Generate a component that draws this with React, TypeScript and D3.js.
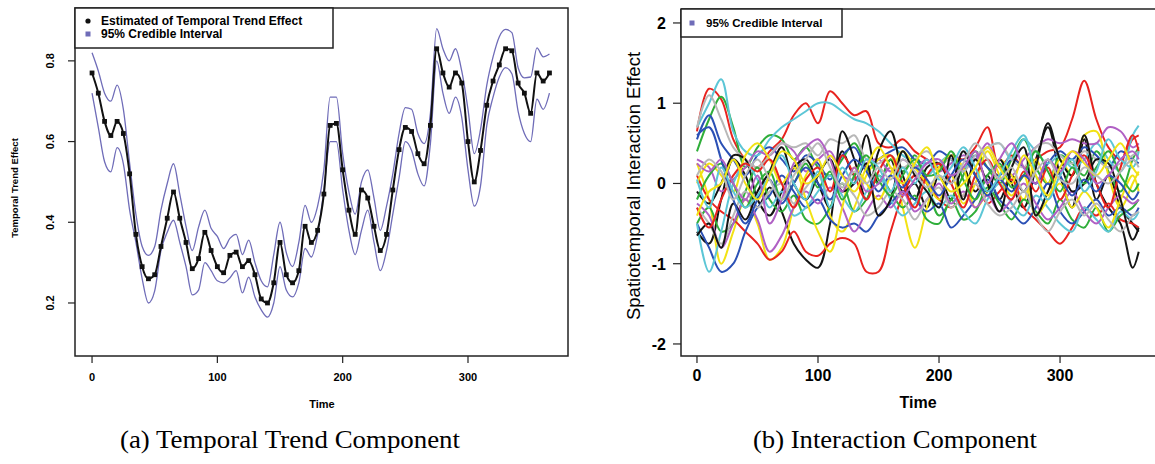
import React from "react";
import * as d3 from "d3";

// ---- (a) temporal trend ----
const trendTime = d3.range(0, 366, 5);
const trendMean = [
  0.77, 0.72, 0.65, 0.615, 0.65, 0.62, 0.52, 0.37, 0.29, 0.26,
  0.27, 0.34, 0.41, 0.475, 0.41, 0.35, 0.285, 0.31, 0.375, 0.33,
  0.29, 0.275, 0.318, 0.326, 0.29, 0.305, 0.27, 0.21, 0.2, 0.25,
  0.35, 0.27, 0.25, 0.28, 0.39, 0.35, 0.38, 0.47, 0.64, 0.645,
  0.53, 0.43, 0.37, 0.48, 0.46, 0.39, 0.33, 0.37, 0.48, 0.58,
  0.635, 0.625, 0.57, 0.545, 0.64, 0.83, 0.77, 0.735, 0.77, 0.745,
  0.6, 0.5, 0.578, 0.69, 0.75, 0.79, 0.83, 0.825, 0.745, 0.72,
  0.67, 0.77, 0.75, 0.77,
];
const trendUpper = [
  0.82, 0.775, 0.72, 0.7, 0.74, 0.68, 0.546, 0.42, 0.34, 0.318,
  0.34, 0.43, 0.496, 0.545, 0.47, 0.39, 0.33, 0.388, 0.43, 0.385,
  0.365, 0.335, 0.36, 0.37, 0.32, 0.356, 0.3, 0.255, 0.24, 0.32,
  0.4, 0.325, 0.29, 0.35, 0.442, 0.4, 0.44, 0.53, 0.71, 0.71,
  0.57, 0.475, 0.42, 0.5, 0.53, 0.46, 0.38, 0.44, 0.52, 0.62,
  0.684, 0.68, 0.62, 0.595, 0.67, 0.88, 0.83, 0.8, 0.83, 0.775,
  0.68, 0.57, 0.63, 0.74, 0.81, 0.86, 0.878, 0.87, 0.783, 0.758,
  0.76, 0.832, 0.81, 0.817,
];
const trendLower = [
  0.72, 0.635, 0.55, 0.525, 0.585, 0.545, 0.43, 0.35, 0.26, 0.2,
  0.23, 0.33, 0.375, 0.405, 0.35, 0.29, 0.22, 0.232, 0.3, 0.28,
  0.255, 0.25, 0.262, 0.28, 0.225, 0.264, 0.215, 0.183, 0.165, 0.2,
  0.29, 0.232, 0.215, 0.25, 0.335, 0.314, 0.37, 0.48, 0.6, 0.6,
  0.48, 0.38, 0.32, 0.38, 0.43, 0.35, 0.28, 0.33, 0.42, 0.51,
  0.6, 0.578, 0.52, 0.49, 0.595, 0.8, 0.72, 0.67, 0.71, 0.66,
  0.53, 0.44, 0.49, 0.64, 0.71, 0.76, 0.783, 0.768, 0.675, 0.62,
  0.6, 0.705, 0.68, 0.72,
];
const trendXTicks = [0, 100, 200, 300];
const trendYTicks = [0.2, 0.4, 0.6, 0.8];

// ---- (b) interaction ----
const interTime = [
  0, 10, 20, 30, 40, 50, 60, 70, 80, 90,
  100, 110, 120, 130, 140, 150, 160, 170, 180, 190,
  200, 210, 220, 230, 240, 250, 260, 270, 280, 290,
  300, 310, 320, 330, 340, 350, 360, 365,
];
const black1 = [
  -0.6, -0.75, -0.2, 0.3, 0.1, -0.3, -0.05, -0.35, -0.75, -0.95,
  -1.05, -0.5, 0.4, 0.1, 0.6, 0.0, 0.3, -0.1, 0.0, -0.3,
  0.1, -0.2, 0.2, -0.1, 0.1, -0.2, 0.1, -0.1, 0.3, 0.7,
  0.1, -0.3, 0.55, -0.2, 0.1, -0.3, -0.5, -0.6,
];
const red1 = [
  0.65, 1.18, 1.05, 0.55, 0.3, 0.2, 0.4, 0.55, 0.85, 1.0,
  0.75, 1.15, 1.0, 0.85, 0.9, 0.5, 0.45, 0.55, 0.4, 0.3,
  0.2, 0.35, 0.3, 0.45, 0.7, 0.2, 0.35, 0.2, 0.3, 0.4,
  0.45, 0.8, 1.28, 0.8, 0.45, 0.3, 0.55, 0.6,
];
const green1 = [
  0.4, 0.8, 1.08, 0.7, 0.2, 0.45, 0.6, 0.55, 0.3, 0.45,
  0.2, 0.1, 0.3, 0.5, 0.2, 0.0, 0.3, 0.15, 0.35, 0.0,
  -0.4, -0.2, 0.1, 0.4, 0.2, 0.0, 0.3, 0.55, 0.2, 0.0,
  0.35, 0.25, 0.1, 0.4, 0.15, -0.1, 0.3, 0.45,
];
const blue1 = [
  0.55, 0.85, 0.5, 0.3, 0.1, 0.35, 0.45, 0.3, 0.15, 0.35,
  0.25, 0.05, 0.35, 0.45, 0.2, 0.3, 0.4, 0.45, 0.3, 0.25,
  0.4, 0.3, 0.15, 0.35, 0.2, 0.1, 0.3, 0.2, 0.0, 0.25,
  0.4, 0.3, 0.45, 0.35, 0.2, 0.4, 0.3, 0.25,
];
const cyan1 = [
  0.7, 1.0, 1.3, 0.65, 0.4, 0.35, 0.55, 0.7, 0.8, 0.9,
  1.0, 1.0, 0.9, 0.8, 0.75, 0.65, 0.5, 0.35, 0.25, 0.1,
  0.25, 0.35, 0.2, 0.3, 0.45, 0.5, 0.3, 0.55, 0.4, 0.25,
  0.35, 0.2, 0.3, 0.5, 0.3, 0.15, 0.6, 0.72,
];
const purple1 = [
  0.3, 0.2, -0.1, 0.05, 0.2, 0.4, 0.35, 0.5, 0.4, 0.15,
  0.3, 0.4, 0.1, 0.05, 0.25, 0.3, 0.15, 0.3, 0.2, 0.3,
  0.15, 0.25, 0.35, 0.3, 0.5, 0.2, 0.1, 0.3, 0.45, 0.55,
  0.5, 0.55, 0.5, 0.5, 0.7, 0.65, 0.45, 0.5,
];
const yellow1 = [
  0.25, -0.2, -1.0, -0.6, -0.2, -0.5, -0.95, -0.8, -0.3, 0.1,
  0.3, -0.4, -0.6, -0.3, 0.1, 0.3, 0.35, -0.3, -0.8, -0.3,
  0.2, 0.35, 0.2, -0.3, -0.1, 0.3, 0.1, -0.2, 0.3, 0.0,
  0.3, 0.1, 0.6, 0.65, 0.1, -0.3, 0.0, 0.15,
];
const gray1 = [
  0.7, 1.1, 0.8, 0.45, 0.3, 0.2, 0.35, 0.5, 0.45, 0.5,
  0.35, 0.55, 0.5, 0.6, 0.3, 0.25, 0.35, 0.2, 0.3, 0.4,
  0.25, 0.3, 0.15, 0.35, 0.45, 0.5, 0.3, 0.2, 0.45, 0.5,
  0.35, 0.25, 0.4, 0.3, 0.2, 0.25, 0.35, 0.4,
];
const black2 = [
  -0.1, -0.25, 0.0, 0.35, 0.3, -0.2, -0.4, -0.1, 0.2, 0.3,
  0.0, -0.3, 0.65, 0.3, -0.2, 0.4, 0.65, 0.1, -0.2, 0.2,
  0.25, 0.0, 0.4, 0.1, -0.1, 0.3, 0.0, -0.3, 0.2, 0.75,
  0.3, 0.1, 0.6, 0.0, -0.3, -0.5, -1.05, -0.85,
];
const red2 = [
  0.1, -0.2, -0.35, -0.45, -0.6, -0.75, -0.95, -0.85, -0.6, -0.85,
  -0.9, -0.75, -0.68, -0.75, -1.1, -1.1, -0.6, -0.15, 0.1, 0.0,
  -0.2, -0.3, -0.15, 0.0, -0.25, -0.1, 0.05, -0.3, -0.45, -0.6,
  -0.75, -0.55, -0.3, -0.4, -0.25, -0.45, -0.5, -0.55,
];
const green2 = [
  -0.5, -0.3, -0.6, -0.5, -0.1, 0.2, -0.2, -0.35, -0.15, -0.45,
  -0.5, -0.3, 0.0, -0.35, -0.2, 0.1, -0.1, -0.3, -0.15, -0.45,
  -0.5, -0.2, -0.45, -0.35, -0.05, -0.25, -0.45, -0.2, -0.35, -0.5,
  -0.2, -0.45, -0.55, -0.3, -0.6, -0.4, -0.3, -0.2,
];
const blue2 = [
  -0.5, -0.8, -1.1, -1.0, -0.6, -0.3, -0.15, 0.1, -0.1, -0.3,
  -0.2, -0.45, -0.55, -0.5, -0.6, -0.4, -0.25, -0.1, -0.2, -0.35,
  -0.25, -0.55, -0.4, -0.2, 0.05, -0.2, -0.35, -0.5, -0.3, 0.0,
  -0.35, -0.5, -0.35, -0.2, -0.4, -0.3, -0.4, -0.3,
];
const cyan2 = [
  -0.5, -1.1, -0.6, 0.0, 0.25, 0.05, -0.3, -0.1, -0.4, -0.3,
  -0.1, 0.1, -0.15, -0.35, -0.1, 0.1, -0.2, -0.4, -0.25, -0.1,
  -0.3, -0.15, -0.35, -0.5, -0.2, 0.0, -0.25, -0.4, -0.15, -0.3,
  -0.5, -0.6, -0.3, -0.45, -0.6, -0.35, -0.45, -0.35,
];
const purple2 = [
  -0.25, -0.4, -0.8, -0.5, -0.2, -0.45, -0.85, -0.65, -0.3, -0.1,
  -0.25, -0.05, -0.3, -0.6, -0.35, -0.15, -0.3, -0.1, -0.35, -0.2,
  0.0, -0.25, -0.1, -0.3, -0.15, -0.35, -0.2, 0.0, -0.25, -0.45,
  -0.3, -0.1, -0.35, -0.5, -0.3, -0.15, -0.25, -0.2,
];
const yellow2 = [
  0.0, 0.25, 0.1, -0.1, 0.35, 0.5, 0.3, 0.0, 0.2, -0.2,
  -0.6, -0.85, -0.3, 0.2, 0.0, -0.2, 0.1, 0.4, 0.2, 0.0,
  -0.2, 0.1, -0.25, 0.0, 0.4, 0.1, -0.15, 0.1, -0.4, -0.2,
  0.0, -0.3, -0.1, -0.3, -0.55, -0.2, 0.1, -0.1,
];
const gray2 = [
  -0.3, -0.5, -0.75, -0.4, -0.1, -0.3, -0.1, 0.0, -0.25, -0.05,
  0.1, -0.2, 0.0, -0.15, -0.4, -0.3, -0.1, -0.2, -0.45, -0.2,
  -0.05, -0.3, -0.15, 0.0, -0.25, -0.4, -0.3, -0.1, -0.4, -0.6,
  -0.35, -0.2, -0.4, -0.25, -0.45, -0.6, -0.4, -0.35,
];
const black3 = [
  -0.65, -0.5, -0.8, -0.25, -0.45, -0.1, 0.15, 0.45, 0.0, -0.2,
  0.1, 0.3, -0.1, 0.0, 0.25, -0.4, -0.2, 0.4, 0.1, -0.1,
  -0.3, 0.35, -0.2, 0.3, 0.0, -0.35, 0.2, 0.45, -0.4, -0.1,
  0.2, -0.1, 0.0, 0.3, 0.25, -0.2, -0.7, -0.55,
];
const red3 = [
  -0.3, -0.55, -0.2, 0.1, 0.25, 0.15, 0.3, 0.0, -0.3, 0.05,
  0.2, -0.1, 0.35, 0.1, -0.2, 0.15, 0.35, 0.0, -0.3, 0.1,
  0.25, 0.0, -0.3, 0.1, 0.3, 0.0, -0.2, 0.15, -0.1, 0.2,
  -0.2, 0.1, 0.35, 0.0, -0.3, 0.2, 0.6, 0.4,
];
const green3 = [
  -0.2, 0.1, 0.25, 0.0, -0.3, 0.0, 0.15, -0.2, 0.0, 0.25,
  -0.05, 0.15, -0.2, 0.1, 0.35, 0.05, -0.15, 0.1, 0.3, 0.1,
  0.15, 0.4, 0.05, -0.2, 0.1, 0.25, -0.05, 0.1, 0.4, 0.15,
  -0.1, 0.2, 0.0, 0.2, 0.4, 0.1, -0.1, 0.0,
];
const blue3 = [
  0.6, 0.7, 0.3, -0.2, -0.5, -0.2, 0.05, -0.25, 0.0, 0.2,
  0.0, -0.2, 0.1, 0.3, 0.15, -0.1, 0.1, -0.05, 0.2, 0.05,
  -0.15, 0.1, 0.3, 0.1, -0.15, 0.05, -0.1, 0.1, 0.0, 0.3,
  0.1, -0.15, 0.05, -0.1, 0.1, 0.0, -0.2, -0.1,
];
const cyan3 = [
  0.05, -0.3, 0.2, -0.1, -0.3, -0.15, 0.1, 0.35, 0.0, -0.2,
  0.15, -0.3, 0.2, 0.0, 0.3, 0.2, -0.1, 0.2, 0.0, 0.3,
  0.05, 0.2, 0.45, 0.2, -0.1, 0.1, 0.4, 0.6, 0.1, -0.2,
  0.1, 0.3, -0.1, 0.15, 0.55, 0.3, 0.2, 0.4,
];
const purple3 = [
  0.25, 0.15, 0.3, 0.0, -0.2, 0.1, -0.5, -0.2, 0.25, 0.45,
  0.55, 0.3, -0.1, 0.2, -0.1, 0.0, 0.2, -0.15, 0.05, 0.25,
  0.3, 0.1, 0.2, 0.4, 0.0, 0.3, 0.5, 0.2, 0.0, 0.3,
  0.15, 0.4, 0.3, 0.0, 0.1, 0.3, 0.4, 0.3,
];
const yellow3 = [
  -0.4, -0.1, 0.0, 0.3, 0.0, -0.2, 0.1, 0.4, 0.3, 0.0,
  0.1, 0.35, 0.1, -0.1, 0.2, 0.45, 0.2, 0.0, 0.25, 0.45,
  0.1, -0.1, 0.0, 0.2, 0.45, 0.2, 0.0, 0.35, 0.1, -0.15,
  0.2, 0.4, 0.25, 0.1, 0.3, 0.5, 0.2, 0.1,
];
const gray3 = [
  0.1, 0.3, 0.15, -0.2, 0.1, 0.3, 0.05, -0.2, 0.1, 0.3,
  0.5, 0.2, -0.05, 0.15, 0.0, 0.2, 0.05, 0.3, 0.15, -0.05,
  0.1, 0.0, 0.25, 0.5, 0.3, 0.05, 0.2, -0.1, 0.15, 0.3,
  0.05, 0.0, 0.2, 0.1, 0.0, 0.15, 0.3, 0.2,
];
const interSeries = [
  black1, red1, green1, blue1, cyan1, purple1, yellow1, gray1,
  black2, red2, green2, blue2, cyan2, purple2, yellow2, gray2,
  black3, red3, green3, blue3, cyan3, purple3, yellow3, gray3,
];
const interColors = ["#141414", "#e8231f", "#2fae3a", "#2b50b5", "#5cc6d6", "#b060c4", "#f2e214", "#b8b8b8"];
const interXTicks = [0, 100, 200, 300];
const interYTicks = [-2, -1, 0, 1, 2];

const bandColor = "#6f6cb8";
const sans = "'Liberation Sans', Arial, sans-serif";
const serif = "'Liberation Serif', 'Times New Roman', serif";

const TrendPanel = () => {
  const x = d3.scaleLinear().domain([-13.6, 379.8]).range([75, 568]);
  const y = d3.scaleLinear().domain([0.0686, 0.931]).range([356, 8]);
  const line = d3
    .line<number>()
    .x((_, i) => x(trendTime[i]))
    .y((d) => y(d))
    .curve(d3.curveMonotoneX);

  return (
    <g>
      <path d={line(trendUpper) || ""} fill="none" stroke={bandColor} strokeWidth={1.3} />
      <path d={line(trendLower) || ""} fill="none" stroke={bandColor} strokeWidth={1.3} />
      <path d={line(trendMean) || ""} fill="none" stroke="#111" strokeWidth={2} />
      {trendMean.map((d, i) => (
        <rect key={i} x={x(trendTime[i]) - 2.4} y={y(d) - 2.4} width={4.8} height={4.8} fill="#111" />
      ))}
      <rect x={75} y={8} width={493} height={348} fill="none" stroke="#222" strokeWidth={1.5} />
      {trendXTicks.map((t) => (
        <g key={t}>
          <line x1={x(t)} x2={x(t)} y1={356} y2={363} stroke="#222" strokeWidth={1.2} />
          <text x={x(t)} y={381} textAnchor="middle" fontFamily={sans} fontWeight="bold" fontSize={11}>
            {t}
          </text>
        </g>
      ))}
      {trendYTicks.map((t) => (
        <g key={t}>
          <line x1={68} x2={75} y1={y(t)} y2={y(t)} stroke="#222" strokeWidth={1.2} />
          <text
            transform={`translate(54,${y(t)}) rotate(-90)`}
            textAnchor="middle"
            fontFamily={sans}
            fontWeight="bold"
            fontSize={11}
          >
            {t.toFixed(1)}
          </text>
        </g>
      ))}
      <text x={322} y={408} textAnchor="middle" fontFamily={sans} fontWeight="bold" fontSize={11}>
        Time
      </text>
      <text
        transform="translate(18,188) rotate(-90)"
        textAnchor="middle"
        fontFamily={sans}
        fontWeight="bold"
        fontSize={9.5}
      >
        Temporal Trend Effect
      </text>
      <rect x={75} y={8} width={258} height={40} fill="#fff" stroke="#222" strokeWidth={1.5} />
      <circle cx={88} cy={21} r={2.6} fill="#111" />
      <rect x={85.5} y={31.5} width={5} height={5} fill={bandColor} />
      <text x={101} y={25} fontFamily={sans} fontWeight="bold" fontSize={12}>
        Estimated of Temporal Trend Effect
      </text>
      <text x={101} y={38} fontFamily={sans} fontWeight="bold" fontSize={12}>
        95% Credible Interval
      </text>
      <text
        x={290}
        y={448}
        textAnchor="middle"
        fontFamily={serif}
        fontSize={26}
        textLength={340}
        lengthAdjust="spacingAndGlyphs"
      >
        (a) Temporal Trend Component
      </text>
    </g>
  );
};

const InteractionPanel = () => {
  const x = d3.scaleLinear().domain([-13.2, 382.6]).range([681, 1160]);
  const y = d3.scaleLinear().domain([-2.15, 2.174]).range([356, 9]);
  const line = d3
    .line<number>()
    .x((_, i) => x(interTime[i]))
    .y((d) => y(d))
    .curve(d3.curveCatmullRom.alpha(0.5));

  return (
    <g>
      {interSeries.map((s, i) => (
        <path
          key={i}
          d={line(s) || ""}
          fill="none"
          stroke={interColors[i % interColors.length]}
          strokeWidth={2}
        />
      ))}
      <path d="M681,9 H1160 M681,9 V356 H1160" fill="none" stroke="#222" strokeWidth={1.5} />
      {interXTicks.map((t) => (
        <g key={t}>
          <line x1={x(t)} x2={x(t)} y1={356} y2={363} stroke="#222" strokeWidth={1.2} />
          <text x={x(t)} y={381} textAnchor="middle" fontFamily={sans} fontWeight="bold" fontSize={16}>
            {t}
          </text>
        </g>
      ))}
      {interYTicks.map((t) => (
        <g key={t}>
          <line x1={673} x2={681} y1={y(t)} y2={y(t)} stroke="#222" strokeWidth={1.2} />
          <text x={666} y={y(t) + 6} textAnchor="end" fontFamily={sans} fontWeight="bold" fontSize={16}>
            {t}
          </text>
        </g>
      ))}
      <text x={918} y={408} textAnchor="middle" fontFamily={sans} fontWeight="bold" fontSize={16}>
        Time
      </text>
      <text
        transform="translate(640,186) rotate(-90)"
        textAnchor="middle"
        fontFamily={sans}
        fontSize={18.5}
      >
        Spatiotemporal Interaction Effect
      </text>
      <rect x={681} y={9} width={161} height={28} fill="#fff" stroke="#222" strokeWidth={1.5} />
      <rect x={689.5} y={20.5} width={5} height={5} fill={bandColor} />
      <text x={706} y={27} fontFamily={sans} fontWeight="bold" fontSize={11.5}>
        95% Credible Interval
      </text>
      <text
        x={895}
        y={448}
        textAnchor="middle"
        fontFamily={serif}
        fontSize={26}
        textLength={284}
        lengthAdjust="spacingAndGlyphs"
      >
        (b) Interaction Component
      </text>
    </g>
  );
};

const App = () => {
  return (
    <svg
      width={1155}
      height={464}
      style={{ position: "absolute", left: 0, top: 0, background: "#fff" }}
    >
      <TrendPanel />
      <InteractionPanel />
    </svg>
  );
};

export default App;
